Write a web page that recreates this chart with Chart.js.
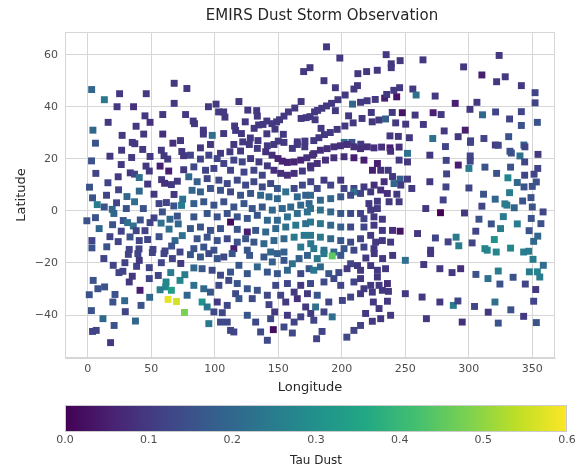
<!DOCTYPE html>
<html>
<head>
<meta charset="utf-8">
<script src="https://cdn.jsdelivr.net/npm/chart.js@4/dist/chart.umd.min.js"></script>
<style>
  html, body { margin: 0; padding: 0; background: #fff; }
</style>
</head>
<body>
<canvas id="chart" width="584" height="474"></canvas>
<script>
// observation longitude (deg E)
const lon = [
  3,13,25,46,68,78,23,36,68,45, 59,77,49,16,4,38,27,44,59,6, 35,67,73,
  170,175,119,101,95,168,163,158,126,133, 103,107,108,133.5,154.5,151,148.7,145,141,138, 134.5,131,147.4,168,172,175,124,115.6,116.4,121, 83,84,91,91,98,107,128,141,154,122, 134,150,165,171,
  188,198.5,235,246,239,239,264,228,219.6,212.7, 186,195,209.6,212.4,202.7,197,192,188,184.3,181, 178.6,208.5,214.8,220,226.4,233.8,235.4,241,245.6,243.3, 256,258.6,195,205.4,223.3,239.8,247.7,257.8,272,216, 209,202.5,196.4,191,186.4,182,178,224,229.3,234.5, 242.5,250.4,264.3,183.7,179,238,244.6,253.3,271.7,202, 208,215,
  324,296,310.4,328.8,322,341.5,273.6,289.4,306.5,352.3, 352.3,278.3,301,310.9,321.2,341.5,332.2,341.5,354.1,280.7, 297.3,291.7,312,331.5,301.5,321,343.5,
  26.6,37,43.2,57.9,74,17.4,34.5,49,60,62.9, 75.4,2.9,26.3,45.8,56.9,63.7,6.3,23.9,33.4,36.8, 40.5,48.4,75.5,15.8,47.1,58.1,60.5,65.8,70.5,1.3, 24.2,40.5,67.9,74.7,14.7,30.8,36.8,3.7,7.4,22.6, 52.1,56.1,61.9,67.7,73.8,12.9,19.2,30.3,43.7,20.5, 58.7,-0.8,6,27.9,31.3,41.3,49,52.1,64.7,70.5, 35.8,57.7,19.5,8.9,26.3,38.1,45,64,71.2,74.4, 3.2,17.4,33.2,40.5,47.1,56.1,68.7,3.2,14.9,23.9, 32.6,40.3,51.3,60.8,66,72.6,
  88.7,96.6,104.5,111.9,115,120.3,127.2,133.5,140.1,145.1, 149.8,153.2,157.2,162.5,167.7,172.5,177,154.5,161.1,165, 170.9,146.6,141.4,80.8,88.7,95.3,101.9,107.1,115,121.6, 128.2,134.8,141.4,146.6,151.9,157.2,162.5,169,175.6,83.5, 92.7,99.3,112.4,123,130.8,137.4,79.5,86.1,94,103.2, 109.8,117.7,124.3,130.8,137.4,144,149.3,155.9,162.5,169, 175.6,136.1,142.7,149.3,82.1,88.7,96.6,104.5,112.4,120.3, 128.2,165,171.6,83.5,91.3,99.3,107.1,115,123,129.5, 137.4,145.3,153.2,159.8,167.7,174.3,94,101.9,109.8,117.7, 125.6,133.5,141.4,149.3,157.2,165,172.9,112.4,83.5,80.8, 88.7,96.6,104.5,117.7,125.6,132.2,140.1,148,155.9,163.8, 171.6,86.1,94,101.9,109.8,117.7,124.3,130.8,138.7,146.6, 154.5,162.5,170.4,83.5,91.3,99.3,115,125.6,144,154.5, 167.7,175.6,
  178,183.2,188.5,193.8,199,204.2,209.6,214.8,220.1,225.4, 231.4,238,245.2,238.5,251.8,245.2,251.8,269.4,175.4,180.7, 187.2,193.8,201.8,209.6,217.5,228.1,224.2,230.7,236.6,240, 246,251.8,255.2,269.4,233.4,241.2,246.5,235.9,243.4,186, 191.3,199.2,201.8,209.6,217.5,225.5,230.7,180.7,175.4,209.6, 183.2,191.3,199.2,207,214.8,222.8,221.4,228.1,237.3,245.2, 266.2,175.4,183.2,191.3,199.2,207,214.8,222.8,228.1,217.5, 225.4,232,175.4,183.2,191.3,199.2,207,217.5,225.4,232, 240,246,259.7,175.4,183.2,191.3,199.2,207,214.8,222.8, 226.7,232,238.5,270,178,186,193.8,201.8,209.6,217.5, 225.4,
  281.7,301.4,323.3,332.5,333.6,344.3,340.4,354.6,282.3,291.8, 301.2,301.2,300.2,312.8,322,333,330.9,344.1,354.4,351.5, 344.1,338.3,343.6,350.1,353.3,282.6,282.1,300.2,311.7,320.9, 332.2,328.5,330.1,335.9,342.5,349.1,279.9,310.4,350.1,277.8, 296.7,358.6,308.1,317.8,327.3,338.3,349.3,356.9,305.6,325.1, 347.6,273.8,283.8,290.1,292.2,302.7,320.2,312.8,314.6,321.7, 333,351.2,354.4,343.3,347.3,
  12.6,20,29.2,38.4,40.5,31.9,39.4,50.8,60,66.6, 73.2,57.9,48.4,24.5,27.6,35,32.6,48.4,55.5,65.3, 72.6,76.4,61.6,61.3,56.9,65.8,4.2,7.9,13.2,1.1, 21.4,29,19.7,41.1,48.7,41.9,63.2,69.8,76.1,2.8, 29.5,11.9,37.5,20.7,3.7,6.6,17.9,
  80.8,88.7,95.3,101.9,107.1,113.7,119,127.4,133.5,138.7, 145.3,149.3,154.5,161.1,166.4,173,83.5,90,97.9,104.5, 112.4,125.6,141.4,149.3,157.2,167.7,174.3,83.5,91.3,78.2, 90,94,96.6,103.2,111,117.7,116.4,119,101.9,109.8, 125.6,129.5,133.5,141.4,142.7,148,151.9,155.9,162.5,167.7, 173,157.2,165,99.3,105.9,104.5,109.8,112.4,115,95.3, 125.6,132.2,136.1,141.4,144,146.1,147.2,154.5,157.2,161.1, 162.5,167.7,171.6,175.6,
  192.5,180.7,186,199.2,207,212.4,219,225.6,232.2,240.1, 250.1,264.6,270,178,183.2,189.8,197.7,204.2,214.8,222.8, 228.1,234.5,175.4,186,193.8,199.2,209.6,217.5,222.8,229.4, 236,214.8,228.1,180.7,189.8,200.5,207,214.8,224.1,232, 236.8,236,229.4,224.9,250.1,263.3,238.5,230.7,224.1,218.8, 192.5,186,179.4,178,184.5,180.2,204,209.6,214.8,266.7,
  277.3,286.9,293.7,305.7,315.2,323.3,324.6,335,344.6,347.8, 350.7,354.1,356,358.8,352.8,277.3,287.9,291.5,304.6,320.7, 315.4,333.2,343.3,351.2,294.9,323.3,353.3
]

// observation latitude (deg N), same order as lon
const lat = [
  46.6,42.7,45,45,49,47,40,40,41.3,36.5, 37,37,34,34,31,32.5,29,29.5,29.5,26, 26.3,26,27,
  53.5,55,42,41,40,42,39.5,38,38.7,38.5, 38,38,36,36.4,36.4,35,34.2,33.5,34.5,33.2, 33,31.7,31.4,35.5,35.8,36.2,34.2,32.6,30.9,29.7, 34.5,33.5,31,29.5,29,29.7,28,29.6,29.4,26.5, 27,26.8,26.5,26.8,
  63,58.7,60,57.7,56.5,55,58,54,53.5,52.7, 50,47.3,46.8,48.1,44.5,42.7,41.3,40.3,39.4,38.6, 38,41,41.7,42.3,42.8,43.3,44.7,46.3,47.3,43.8, 46.8,44.5,38.5,36.5,37.8,37.8,37.7,36.8,37.7,35.5, 33.8,32.6,31.3,30.1,29.3,28.1,27,34.2,34.9,35.3, 33.8,33.3,33.2,31.7,35,28.8,28.6,28.1,27.8,26.3, 26.3,25.6,
  59.7,55.3,52.2,51.5,49.6,48.1,44.1,41.3,41.7,45.4, 41.5,37,39,36.9,38,38.1,35.3,32.8,34,30.7, 31,28.5,27.8,28.5,26.9,25.3,25.3,
  23.3,25.8,23.6,23.3,22.8,21,20.5,20.9,21.2,19.9, 21.2,19.2,17.8,17.2,17.2,15.3,14.4,13.1,14.6,14.1, 12.8,15.3,15.8,10.8,10.3,12,10.6,10.1,11.4,9.1, 8.1,7.6,6.3,4.5,6,5.5,3.5,5,2.4,3.1, 6.4,2.8,3.2,1.9,2.1,1.5,0.6,0.9,0.9,-1, -0.4,-3.8,-2.6,-3.7,-4.5,-3.5,-4.5,-2.7,-3.2,-2, -5.8,-4.7,-5.3,-6.8,-7.8,-7.6,-7.6,-7,-5,-9.5, -11.4,-9.9,-10,-11.4,-11,-9.9,-11.4,-14.2,-13.8,-11.8, -14.8,-14.6,-14.8,-15.4,-13.5,-15.8,
  24.2,25.5,22.1,22.7,25.5,23,25.5,24,22.7,21.4, 20.1,19.1,18.6,18.8,19.5,20.4,21.4,26.3,24,25.5, 24.6,25.5,25,21.4,19.9,21.4,20.1,18.2,19.5,18.8, 20.1,18.8,17.3,15.6,14.4,13.7,14.4,15.3,16.5,16.9, 15.6,16.3,15.6,14.9,15.6,13.7,13.1,11.2,12.4,11.8, 10.5,11.8,9.9,11.2,9.2,10.5,8.6,7.3,8.6,9.9, 11.2,6,5.4,4.7,7.9,7.3,8.6,7.9,7.3,6, 6.7,5.4,6,2.8,3.5,2.2,3.5,1.5,2.8,0.9, 1.5,0.3,0.9,1.5,2.2,2.8,-1,-2.3,-1,-2.3, -2.9,-1.7,-3.6,-3.6,-2.3,-1,-0.4,-4.3,-2.3,-6.8, -6.2,-7.5,-6.8,-7.1,-8.1,-7.5,-8.1,-6.8,-6.2,-5.5, -4.9,-10.7,-10.1,-11.4,-10.7,-12,-10.7,-12,-12.6,-11.4, -10.7,-10.1,-9.4,-14.5,-13.9,-15.1,-14.5,-15.1,-15.8,-15.8, -13.9,-12.6,
  22,23.3,23.9,24.6,25,25.5,24.6,23.9,24.6,24.2, 24.5,24.2,24.5,22.9,22.1,19.5,18.8,21.4,17.3,18.2, 19.5,20.4,20.8,20.4,19.5,18.2,15.6,15.6,15.6,13.2, 12.2,12.2,8.6,11.2,11.2,10.5,9.9,6.7,6.4,11.8, 9.9,11.8,8.6,8.6,9.2,9.9,8,8.6,6,7.3, 4.1,4.7,5.4,6,6.7,7.3,2.8,3.7,3.5,3.5, 0.9,0.9,0.3,-0.4,-1,-1,-1,0.3,0.9,-3, -2.3,-3.2,-4.3,-4.9,-5.5,-6.2,-6.2,-6.2,-5.5,-7.5, -7.5,-7.8,-8.7,-9.4,-10.1,-10.7,-11.4,-12,-10.7,-9.4, -12,-11.4,-12,-15.1,-14.5,-15.1,-15.8,-14.5,-15.1,-13.9, -14.5,
  24.7,26.3,25.2,22.9,22.2,24.6,21.1,21.7,19.4,17.6, 21.1,19.1,16.3,16.8,14.4,16.8,12.7,18.8,16.3,14.1, 13.7,10.9,9.2,9.4,11.1,14.2,9.2,8.8,6.4,4.5, 7,2.7,2.2,1.2,3.8,5.1,4.2,1.8,1.5,-0.7, -0.8,-0.4,-3.2,-5,-2.2,-5,-2.9,-4.9,-7.8,-6.8, -7.6,-10.4,-11.9,-10.1,-13.4,-12.3,-11,-14.5,-15.1,-15.8, -14.3,-11.7,-9.7,-15.8,-15.5,
  -18.3,-20.9,-19.9,-21.3,-19,-16.7,-16.4,-16,-16.4,-18.3, -20.2,-19.9,-21.8,-23.7,-23.2,-25.1,-27.3,-26,-24.8,-23.7, -26.7,-24.5,-27.3,-29.2,-30.3,-30.5,-26.7,-29.9,-29.2,-32.2, -32.1,-34.5,-35,-30.5,-33.2,-36.3,-34,-34.8,-39,-38.3, -38.7,-41.4,-42.3,-44,-46.3,-45.9,-50.6,
  -16.8,-17.7,-16.4,-18.3,-17.7,-16.4,-20.9,-17.1,-21.5,-17.7, -19.6,-16.4,-19,-20.3,-18.3,-17.1,-21.9,-22.2,-22.8,-24.7, -23.5,-24.1,-23.5,-24.1,-22.8,-24.1,-22.2,-28.6,-29.9,-32.4, -35,-36.9,-31.2,-28.6,-26.7,-27.9,-31.8,-33.7,-35,-36.3, -29.9,-33.7,-30.5,-32.4,-36,-28.6,-32.4,-35,-31.2,-28.6, -31.8,-27.9,-33.7,-38.8,-39.1,-42.7,-42.7,-45.9,-46.5,-43.3, -40.1,-42.7,-46.5,-49.7,-41.4,-45.6,-38.8,-44.6,-40.1,-46.9, -42.7,-40.7,-36.9,-39.4,
  -17.3,-18.3,-16.4,-17.1,-20.3,-21,-18.1,-16.4,-18.3,-17.1, -19,-20.6,-16.4,-22.8,-21.5,-24.1,-23.7,-22.2,-22.8,-21, -22.8,-22.2,-27.9,-27.3,-26,-28.6,-27.3,-29.9,-28.6,-28.6, -27.9,-26,-25.4,-32.4,-35,-34.4,-33.1,-31.8,-31.2,-30.5, -30.9,-34.7,-37.5,-35,-31.8,-33.1,-40.1,-41.4,-42.4,-39.4, -40.7,-38.8,-36.9,-42,-46.3,-49.1,-48.5,-45.9,-44,-41.4,
  -22.2,-23.7,-22.2,-24.4,-26,-23.1,-28.1,-25.5,-28.1,-23.4, -18.6,-23.4,-25.4,-20.9,-30.2,-35,-36.3,-34.6,-36.7,-35, -38.9,-38,-40.5,-34.7,-42.7,-43.1,-42.9
]

// dust optical depth, same order as lon
const tau = [
  .2,.24,.1,.1,.1,.1,.1,.08,.1,.1, .1,.1,.08,.1,.2,.1,.1,.1,.08,.15, .1,.08,.1,
  .1,.1,.1,.1,.1,.1,.1,.1,.1,.1, .1,.1,.1,.1,.1,.1,.1,.1,.1,.1, .1,.1,.1,.1,.1,.1,.1,.1,.1,.1, .1,.1,.1,.1,.22,.1,.1,.1,.1,.1, .1,.1,.1,.1,
  .1,.1,.1,.1,.1,.1,.1,.1,.1,.1, .1,.1,.1,.1,.1,.1,.1,.1,.1,.1, .1,.2,.1,.1,.1,.05,.1,.1,.1,.03, .1,.22,.1,.1,.1,.1,.03,.1,.05,.1, .1,.1,.1,.1,.1,.1,.1,.1,.1,.18, .1,.1,.1,.1,.1,.1,.1,.1,.22,.22, .15,.1,
  .1,.1,.05,.1,.1,.1,.1,.05,.1,.12, .12,.1,.1,.2,.12,.12,.12,.15,.15,.1, .05,.1,.12,.15,.12,.1,.2,
  .1,.1,.1,.1,.1,.1,.1,.1,.1,.1, .1,.15,.1,.1,.05,.05,.12,.1,.1,.12, .22,.1,.1,.12,.1,.1,.08,.1,.1,.15, .12,.2,.1,.22,.12,.2,.22,.15,.25,.12, .1,.12,.12,.15,.25,.15,.2,.15,.15,.2, .15,.15,.15,.15,.22,.15,.12,.12,.2,.15, .22,.22,.15,.2,.12,.12,.12,.22,.2,.22, .12,.12,.15,.12,.12,.15,.2,.15,.15,.12, .12,.12,.12,.12,.15,.12,
  .1,.1,.1,.1,.1,.1,.1,.1,.08,.08, .06,.06,.06,.06,.06,.08,.08,.1,.1,.1, .1,.1,.1,.12,.12,.12,.12,.12,.12,.12, .1,.1,.1,.08,.08,.08,.08,.1,.1,.13, .12,.12,.12,.12,.12,.12,.2,.18,.13,.13, .13,.13,.13,.13,.13,.13,.16,.22,.13,.13, .12,.2,.2,.2,.2,.18,.15,.15,.13,.16, .16,.2,.18,.18,.16,.15,.15,.15,.16,.16, .16,.2,.2,.2,.2,.2,.16,.15,.15,.15, .16,.16,.2,.2,.22,.22,.22,.02,.16,.16, .15,.15,.15,.15,.05,.16,.2,.2,.22,.24, .22,.15,.15,.15,.13,.15,.16,.16,.2,.2, .2,.24,.24,.15,.15,.15,.05,.16,.2,.18, .24,.24,
  .08,.08,.08,.08,.08,.08,.08,.08,.08,.08, .08,.05,.08,.08,.22,.1,.1,.1,.08,.08, .08,.08,.08,.05,.05,.05,.05,.08,.1,.1, .18,.1,.1,.1,.08,.2,.1,.08,.1,.1, .12,.1,.12,.12,.1,.08,.08,.13,.2,.22, .2,.2,.16,.13,.12,.1,.1,.1,.1,.1, .1,.22,.22,.2,.16,.13,.12,.1,.1,.12, .1,.1,.24,.24,.2,.18,.13,.12,.1,.1, .08,.03,.1,.24,.24,.2,.16,.13,.12,.1, .1,.1,.1,.1,.24,.22,.2,.16,.13,.12, .1,
  .12,.12,.12,.15,.15,.12,.22,.1,.12,.05, .12,.12,.25,.15,.15,.15,.27,.12,.12,.12, .12,.2,.15,.15,.15,.12,.12,.12,.15,.2, .25,.25,.25,.2,.15,.15,.12,.12,.15,0, .1,.12,.15,.15,.25,.25,.15,.15,.12,.25, .15,.12,.12,.25,.25,.12,.3,.27,.27,.27, .27,.2,.2,.25,.25,
  .12,.12,.12,.12,.1,.12,.12,.12,.12,.12, .1,.12,.12,.12,.12,.1,.1,.12,.12,.25, .27,.25,.27,.27,.25,.33,.15,.15,.15,.15, .15,.2,.15,.05,.2,.15,.58,.56,.48,.15, .12,.2,.2,.15,.12,.12,.1,
  .16,.16,.13,.16,.13,.16,.16,.16,.2,.16, .18,.18,.16,.22,.18,.18,.2,.16,.13,.13, .16,.16,.16,.16,.2,.13,.16,.22,.2,.2, .3,.24,.16,.13,.13,.16,.13,.16,.1,.13, .16,.13,.15,.13,.12,.13,.12,.1,.1,.1, .1,.12,.08,.13,.13,.13,.13,.12,.12,.24, .16,.13,.13,.13,.13,.02,.1,.13,.1,.13, .12,.12,.1,.1,
  .45,.24,.24,.16,.12,.1,.1,.1,.1,.1, .22,.1,.1,.24,.2,.16,.13,.1,.1,.1, .1,.1,.13,.13,.13,.12,.12,.1,.1,.1, .08,.1,.1,.16,.12,.12,.12,.1,.1,.1, .1,.1,.1,.1,.1,.1,.1,.1,.1,.1, .22,.12,.22,.12,.12,.12,.13,.12,.12,.1,
  .1,.1,.08,.15,.22,.25,.15,.15,.12,.25, .25,.27,.25,.22,.1,.1,.25,.12,.12,.22, .1,.15,.1,.12,.08,.15,.15
]

const xTicks = [0, 50, 100, 150, 200, 250, 300, 350]
const yTicks = [-40, -20, 0, 20, 40, 60]
const cbTicks = [0.0, 0.1, 0.2, 0.3, 0.4, 0.5, 0.6]
const tauMin = 0
const tauMax = 0.6

const viridisStops = ["#440154", "#482475", "#414487", "#355f8d", "#2a788e", "#21918c",
                      "#22a884", "#44bf70", "#7ad151", "#bddf26", "#fde725"]

function hexRgb(h) {
  return [parseInt(h.slice(1, 3), 16), parseInt(h.slice(3, 5), 16), parseInt(h.slice(5, 7), 16)]
}

function viridis(v) {
  let t = Math.min(1, Math.max(0, (v - tauMin) / (tauMax - tauMin))) * (viridisStops.length - 1)
  let i = Math.min(viridisStops.length - 2, Math.floor(t))
  let f = t - i
  let a = hexRgb(viridisStops[i]), b = hexRgb(viridisStops[i + 1])
  let c = a.map((av, k) => Math.round(av + (b[k] - av) * f))
  return "rgb(" + c.join(",") + ")"
}

const n = Math.min(lon.length, lat.length, tau.length)
const points = []
for (let i = 0; i < n; i++) points.push({ x: lon[i], y: lat[i], tau: tau[i] })

const family = "'DejaVu Sans', sans-serif"
const gridColor = "#d6d6d6"
const tickColor = "#4d4d4d"
const labelColor = "#262626"
const minus = v => String(v).replace("-", "\u2212")

const decor = {
  id: "decor",
  beforeDatasetsDraw(chart) {
    const { ctx, chartArea: a } = chart
    ctx.save()
    ctx.strokeStyle = gridColor
    ctx.lineWidth = 1
    ctx.strokeRect(a.left + 0.5, a.top + 0.5, a.right - a.left - 1, a.bottom - a.top - 1)
    ctx.restore()
  },
  afterDraw(chart) {
    const { ctx } = chart
    ctx.save()
    ctx.fillStyle = labelColor
    ctx.font = "15px " + family
    ctx.textAlign = "center"
    ctx.textBaseline = "middle"
    ctx.fillText("EMIRS Dust Storm Observation", 322, 16)

    // colour bar under the x axis
    const cb = { left: 65, right: 567, top: 405, bottom: 432 }
    const g = ctx.createLinearGradient(cb.left, 0, cb.right, 0)
    viridisStops.forEach((c, i) => g.addColorStop(i / (viridisStops.length - 1), c))
    ctx.fillStyle = g
    ctx.fillRect(cb.left, cb.top, cb.right - cb.left, cb.bottom - cb.top)
    ctx.strokeStyle = "#cccccc"
    ctx.strokeRect(cb.left + 0.5, cb.top + 0.5, cb.right - cb.left - 1, cb.bottom - cb.top - 1)

    ctx.fillStyle = tickColor
    ctx.font = "11px " + family
    ctx.textBaseline = "top"
    cbTicks.forEach(v => {
      let x = cb.left + (v - tauMin) / (tauMax - tauMin) * (cb.right - cb.left)
      ctx.fillText(v.toFixed(1), x, cb.bottom + 3)
    })
    ctx.fillStyle = labelColor
    ctx.font = "12px " + family
    ctx.textBaseline = "middle"
    ctx.fillText("Tau Dust", (cb.left + cb.right) / 2, 461)
    ctx.restore()
  }
}

new Chart(document.getElementById("chart"), {
  type: "scatter",
  data: {
    datasets: [{
      data: points,
      pointStyle: "rect",
      pointRadius: 4.9,
      pointHoverRadius: 4.9,
      borderWidth: 0,
      backgroundColor: c => viridis(c.raw ? c.raw.tau : 0),
    }]
  },
  options: {
    responsive: false,
    animation: false,
    layout: { padding: { left: 10, right: 29, top: 32, bottom: 75 } },
    plugins: { legend: { display: false }, tooltip: { enabled: false } },
    scales: {
      x: {
        type: "linear", min: -18, max: 368,
        afterBuildTicks: s => { s.ticks = xTicks.map(v => ({ value: v })) },
        afterFit: s => { s.height = 41 },
        grid: { color: gridColor, drawTicks: false },
        border: { color: gridColor },
        ticks: { color: tickColor, font: { family: family, size: 11 }, padding: 5, maxRotation: 0, callback: v => minus(v) },
        title: { display: true, text: "Longitude", color: labelColor, font: { family: family, size: 13 }, padding: { top: 4, bottom: 4 } }
      },
      y: {
        type: "linear", min: -56.5, max: 68.7,
        afterBuildTicks: s => { s.ticks = yTicks.map(v => ({ value: v })) },
        afterFit: s => { s.width = 55 },
        grid: { color: gridColor, drawTicks: false },
        border: { color: gridColor },
        ticks: { color: tickColor, font: { family: family, size: 11 }, padding: 7, callback: v => minus(v) },
        title: { display: true, text: "Latitude", color: labelColor, font: { family: family, size: 13 }, padding: { top: 4, bottom: 4 } }
      }
    }
  },
  plugins: [decor]
})
</script>
</body>
</html>
